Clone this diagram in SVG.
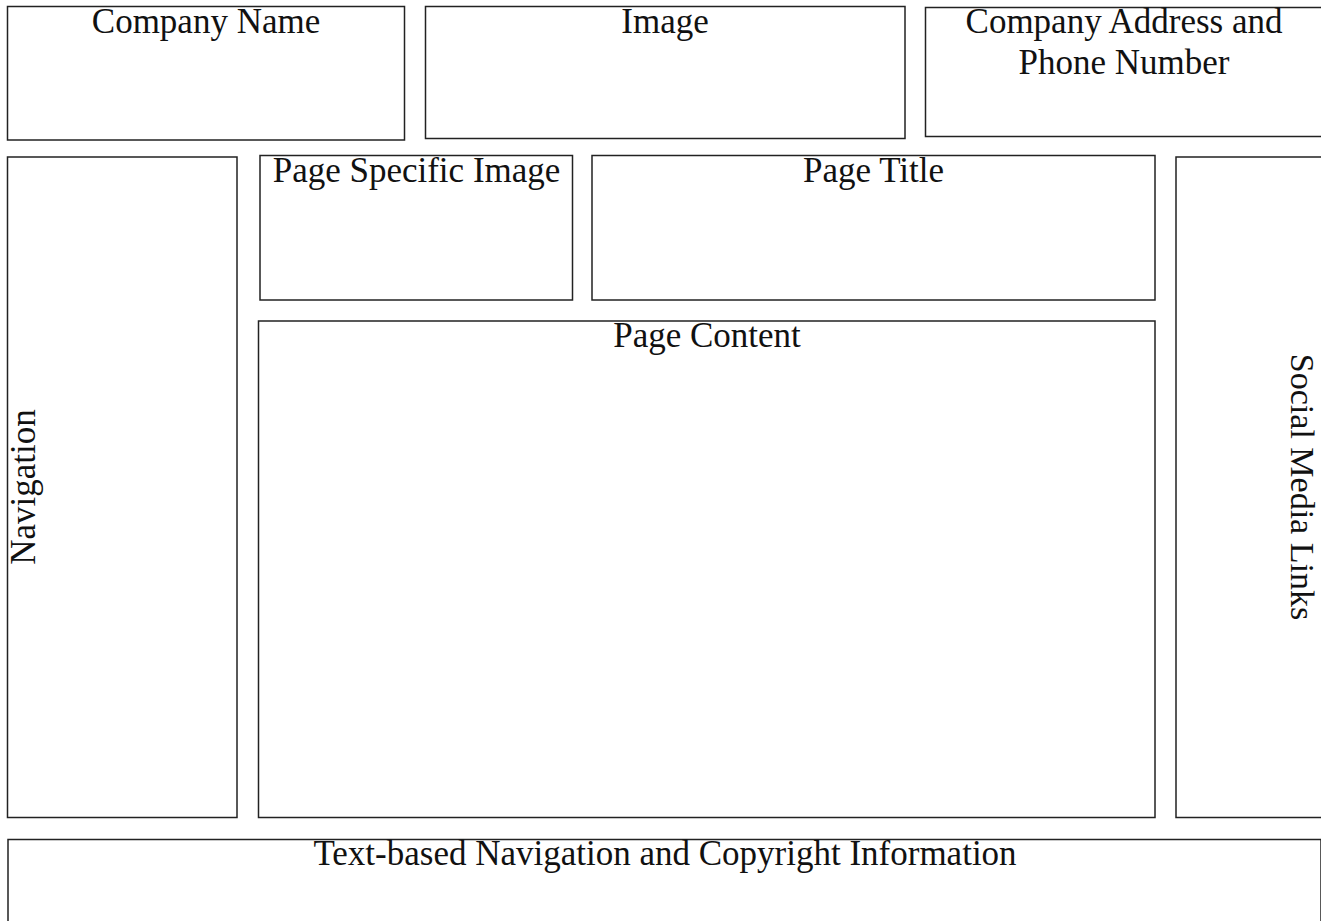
<svg xmlns="http://www.w3.org/2000/svg" width="1321" height="921" viewBox="0 0 1321 921">
<style>
.box{fill:#fff;stroke:#222;stroke-width:1.5}
.t{font-family:"Liberation Serif","Times New Roman",serif;font-size:35px;fill:#111;text-anchor:middle}
</style>
<rect width="1321" height="921" fill="#fff"/>
<g id="company-name"><rect class="box" x="7.5" y="6.5" width="397" height="133.5"/><text class="t" x="206" y="33">Company Name</text></g>
<g id="image"><rect class="box" x="425.5" y="6.5" width="479.5" height="132"/><text class="t" x="665" y="33">Image</text></g>
<g id="company-address"><rect class="box" x="925.5" y="7.5" width="397" height="129"/><text class="t" x="1124" y="33">Company Address and</text><text class="t" x="1124" y="74">Phone Number</text></g>
<g id="navigation"><rect class="box" x="7.5" y="157" width="229.5" height="660.5"/><text class="t" transform="translate(35,487) rotate(-90)">Navigation</text></g>
<g id="page-specific-image"><rect class="box" x="260" y="155.5" width="312.5" height="144.5"/><text class="t" x="416.5" y="182">Page Specific Image</text></g>
<g id="page-title"><rect class="box" x="592" y="155.5" width="563" height="144.5"/><text class="t" x="873.5" y="182">Page Title</text></g>
<g id="page-content"><rect class="box" x="258.5" y="321" width="896.5" height="496.5"/><text class="t" x="707" y="347">Page Content</text></g>
<g id="social-media-links"><rect class="box" x="1176" y="157" width="146" height="660.5"/><text class="t" style="font-size:34px" transform="translate(1291,487) rotate(90)">Social Media Links</text></g>
<g id="footer"><rect class="box" x="8" y="839.5" width="1313" height="90"/><text class="t" x="665" y="865">Text-based Navigation and Copyright Information</text></g>
<g id="connectors"></g>
</svg>
